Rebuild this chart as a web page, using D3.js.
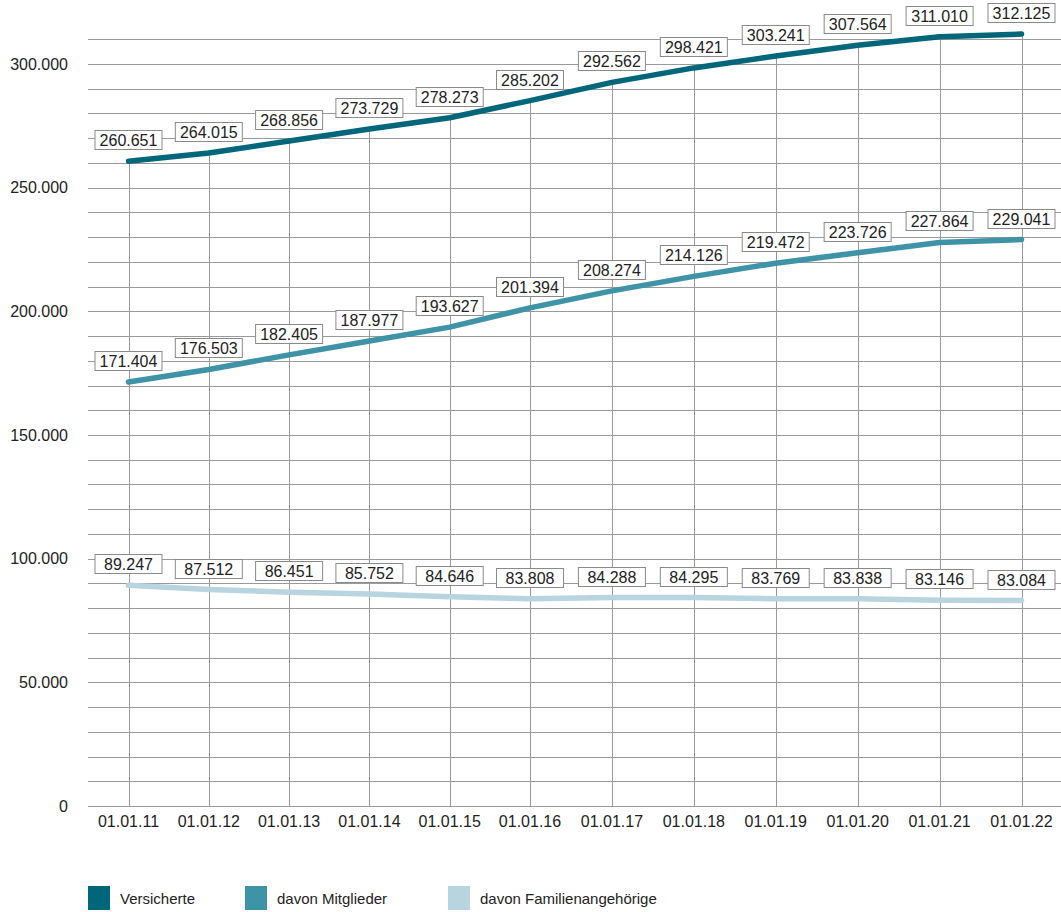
<!DOCTYPE html>
<html>
<head>
<meta charset="utf-8">
<script src="https://cdn.jsdelivr.net/npm/d3@7"></script>
<style>
  body { margin: 0; background: #fff; }
  text { font-family: "Liberation Sans", Arial, sans-serif; fill: #222; }
</style>
</head>
<body>
<div id="chart"></div>
<script>
// data
let dates = ['01.01.11','01.01.12','01.01.13','01.01.14','01.01.15','01.01.16','01.01.17','01.01.18','01.01.19','01.01.20','01.01.21','01.01.22'];
let versicherte = [260651, 264015, 268856, 273729, 278273, 285202, 292562, 298421, 303241, 307564, 311010, 312125];
let mitglieder = [171404, 176503, 182405, 187977, 193627, 201394, 208274, 214126, 219472, 223726, 227864, 229041];
let familien = [89247, 87512, 86451, 85752, 84646, 83808, 84288, 84295, 83769, 83838, 83146, 83084];
let yTicks = [0, 50000, 100000, 150000, 200000, 250000, 300000];

let width = 1061, height = 912;
let margin = {top: 39, bottom: 106, left: 88, right: 0};

let series = [
  {name: 'Versicherte', values: versicherte, color: '#006679'},
  {name: 'davon Mitglieder', values: mitglieder, color: '#3f93a6'},
  {name: 'davon Familienangehörige', values: familien, color: '#b7d4df'}
];

let svg = d3.select('#chart').append('svg')
  .attr('width', width)
  .attr('height', height);

let yScale = d3.scaleLinear()
  .domain([0, 300000])
  .range([806, 64]);

// the original spaces the years slightly wider on the right half
let xIndex = d3.scaleLinear()
  .domain([0, 5, 11])
  .range([128.5, 530, 1021.5]);
let xScale = d => xIndex(dates.indexOf(d));

let fmt = d3.formatLocale({decimal: ',', thousands: '.', grouping: [3], currency: ['', '']}).format(',d');

// horizontal grid every 10.000
let grid = d3.range(0, 310001, 10000);
svg.append('g').selectAll('line').data(grid).enter().append('line')
  .attr('x1', margin.left).attr('x2', width)
  .attr('y1', d => Math.round(yScale(d)) + 0.5).attr('y2', d => Math.round(yScale(d)) + 0.5)
  .attr('stroke', '#9a9a9a').attr('stroke-width', 1);

// vertical lines from top series down to the axis
svg.append('g').selectAll('line').data(dates).enter().append('line')
  .attr('x1', d => Math.round(xScale(d)) + 0.5).attr('x2', d => Math.round(xScale(d)) + 0.5)
  .attr('y1', (d, i) => yScale(versicherte[i]))
  .attr('y2', yScale(0))
  .attr('stroke', '#9a9a9a').attr('stroke-width', 1);

// y axis labels
svg.append('g').selectAll('text').data(yTicks).enter().append('text')
  .attr('x', 68).attr('y', d => yScale(d))
  .attr('dy', '0.35em')
  .attr('text-anchor', 'end')
  .style('font-size', '16px')
  .text(d => fmt(d));

// x axis labels
svg.append('g').selectAll('text').data(dates).enter().append('text')
  .attr('x', d => xScale(d)).attr('y', 821)
  .attr('dy', '0.35em')
  .attr('text-anchor', 'middle')
  .style('font-size', '16px')
  .text(d => d);

// lines
let line = d3.line()
  .x((d, i) => xScale(dates[i]))
  .y(d => yScale(d));

series.forEach(function(s) {
  svg.append('path')
    .datum(s.values)
    .attr('d', line)
    .attr('fill', 'none')
    .attr('stroke', s.color)
    .attr('stroke-width', 5.5)
    .attr('stroke-linecap', 'round')
    .attr('stroke-linejoin', 'round');
});

// value labels in boxes
series.forEach(function(s) {
  let g = svg.append('g').selectAll('g').data(s.values).enter().append('g')
    .attr('transform', (d, i) => `translate(${xScale(dates[i])},${Math.round(yScale(d) - 21)})`);
  g.append('rect')
    .attr('x', -33.5).attr('y', -9.5)
    .attr('width', 67).attr('height', 19)
    .attr('fill', '#fff')
    .attr('stroke', '#8a8a8a')
    .attr('stroke-width', 1);
  g.append('text')
    .attr('text-anchor', 'middle')
    .attr('dy', '0.36em')
    .style('font-size', '16px')
    .text(d => fmt(d));
});

// legend
let legendX = [88, 245, 448];
let legend = svg.append('g').selectAll('g').data(series).enter().append('g')
  .attr('transform', (d, i) => `translate(${legendX[i]},886)`);
legend.append('rect')
  .attr('width', 22).attr('height', 24)
  .attr('fill', d => d.color);
legend.append('text')
  .attr('x', 32).attr('y', 13)
  .attr('dy', '0.35em')
  .style('font-size', '15px')
  .text(d => d.name);
</script>
</body>
</html>
